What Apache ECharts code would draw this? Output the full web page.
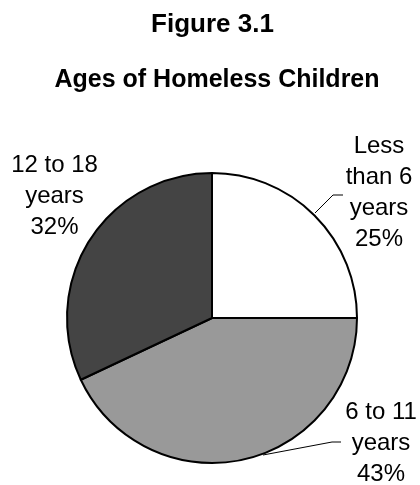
<!DOCTYPE html>
<html>
<head>
<meta charset="utf-8">
<script src="https://cdn.jsdelivr.net/npm/echarts@6/dist/echarts.min.js"></script>
<style>
html,body{margin:0;padding:0;background:#fff;}
#chart{width:420px;height:485px;}
</style>
</head>
<body>
<div id="chart"></div>
<script>
const titleMain = 'Figure 3.1';
const titleSub = 'Ages of Homeless Children';
const categories = ['Less\nthan 6\nyears', '6 to 11\nyears', '12 to 18\nyears'];
const values = [25, 43, 32];
const colors = ['#ffffff', '#999999', '#444444'];

const FONT = '"Liberation Sans", Arial, sans-serif';
const cx = 212, cy = 318, R = 145;
// label anchors and leader lines, as offsets from the pie centre
const labelPos = [
  {dx: 167, dy: -125, line: [[103, -105], [121, -123], [131, -123]]},
  {dx: 169, dy: 125, line: [[51, 137], [120, 124], [129, 124]]},
  {dx: -157.5, dy: -122, line: null}
];

const chart = echarts.init(document.getElementById('chart'), null, {renderer: 'canvas'});
chart.setOption({
  animation: false,
  backgroundColor: '#ffffff',
  graphic: [
    {type: 'text', x: 212.5, y: 25, style: {text: titleMain, font: 'bold 26px ' + FONT, fill: '#000', textAlign: 'center', textVerticalAlign: 'middle'}},
    {type: 'text', x: 217, y: 80, style: {text: titleSub, font: 'bold 25px ' + FONT, fill: '#000', textAlign: 'center', textVerticalAlign: 'middle'}}
  ],
  series: [{
    type: 'pie',
    center: [cx, cy],
    radius: R,
    startAngle: 90,
    clockwise: true,
    avoidLabelOverlap: false,
    itemStyle: {borderColor: '#000', borderWidth: 2},
    label: {
      show: true,
      position: 'outside',
      formatter: p => p.name + '\n' + p.value + '%',
      fontFamily: FONT,
      fontSize: 24,
      lineHeight: 31,
      color: '#000'
    },
    labelLine: {show: true, lineStyle: {color: '#000', width: 1}},
    emphasis: {disabled: true},
    labelLayout: function (params) {
      const lp = labelPos[params.dataIndex];
      const out = {x: cx + lp.dx, y: cy + lp.dy, align: 'center', verticalAlign: 'middle'};
      if (lp.line) out.labelLinePoints = lp.line.map(pt => [cx + pt[0], cy + pt[1]]);
      return out;
    },
    data: categories.map((c, i) => ({
      name: c,
      value: values[i],
      itemStyle: {color: colors[i]},
      labelLine: {show: labelPos[i].line !== null}
    }))
  }]
});
</script>
</body>
</html>
